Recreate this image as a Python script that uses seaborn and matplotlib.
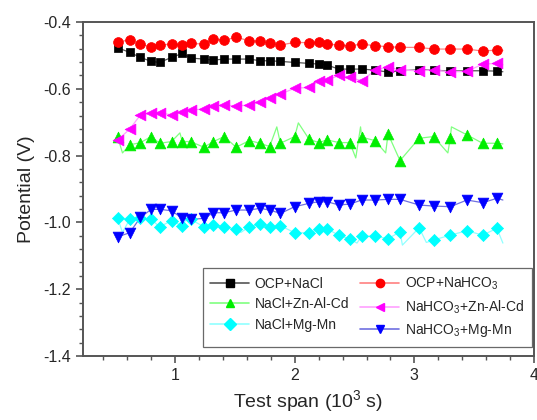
import numpy as np
import pandas as pd
import matplotlib
matplotlib.use("Agg")
import matplotlib.pyplot as plt
from matplotlib.lines import Line2D
from matplotlib.ticker import MultipleLocator
import seaborn as sns

# ---------------- data ----------------
x_time = [0.52, 0.62, 0.71, 0.80, 0.87, 0.97, 1.06, 1.13, 1.24, 1.32, 1.41, 1.51,
          1.62, 1.71, 1.79, 1.88, 2.00, 2.12, 2.20, 2.27, 2.37, 2.46, 2.56, 2.67,
          2.78, 2.88, 3.04, 3.16, 3.30, 3.44, 3.57, 3.69]

ocp_nacl = [-0.477, -0.491, -0.506, -0.518, -0.521, -0.506, -0.494, -0.508, -0.511, -0.514,
            -0.511, -0.511, -0.511, -0.516, -0.516, -0.518, -0.521, -0.524, -0.526, -0.529,
            -0.541, -0.541, -0.541, -0.544, -0.550, -0.546, -0.543, -0.544, -0.547, -0.546,
            -0.546, -0.547]

ocp_nahco3 = [-0.459, -0.454, -0.467, -0.474, -0.469, -0.466, -0.468, -0.464, -0.466, -0.452,
              -0.454, -0.446, -0.456, -0.458, -0.462, -0.469, -0.461, -0.462, -0.460, -0.466,
              -0.469, -0.471, -0.466, -0.471, -0.474, -0.476, -0.476, -0.481, -0.481, -0.481,
              -0.487, -0.484]

nacl_znalcd = [-0.745, -0.768, -0.761, -0.743, -0.763, -0.758, -0.758, -0.758, -0.775, -0.758,
               -0.743, -0.775, -0.755, -0.763, -0.773, -0.763, -0.743, -0.751, -0.761, -0.753,
               -0.761, -0.761, -0.745, -0.755, -0.735, -0.815, -0.748, -0.743, -0.748, -0.738,
               -0.763, -0.763]

nahco3_znalcd = [-0.753, -0.721, -0.678, -0.673, -0.672, -0.678, -0.669, -0.663, -0.661, -0.651,
                 -0.649, -0.651, -0.649, -0.639, -0.628, -0.616, -0.598, -0.596, -0.577, -0.574,
                 -0.560, -0.566, -0.576, -0.545, -0.534, -0.544, -0.546, -0.544, -0.549, -0.548,
                 -0.526, -0.524]

nacl_mgmn = [-0.988, -0.991, -0.988, -0.991, -1.013, -0.995, -1.011, -0.991, -1.013, -1.008,
             -1.013, -1.021, -1.013, -1.005, -1.013, -1.010, -1.031, -1.031, -1.021, -1.019,
             -1.039, -1.049, -1.041, -1.041, -1.049, -1.028, -1.016, -1.053, -1.038, -1.025,
             -1.038, -1.018]

nahco3_mgmn = [-1.043, -1.031, -0.985, -0.961, -0.961, -0.965, -0.988, -0.991, -0.988, -0.971,
               -0.971, -0.963, -0.963, -0.958, -0.963, -0.973, -0.953, -0.943, -0.938, -0.938,
               -0.948, -0.945, -0.933, -0.933, -0.931, -0.931, -0.948, -0.951, -0.953, -0.933,
               -0.941, -0.928]

# extra fluctuation points of the thin traces
green_extra_x = [0.56, 1.04, 1.85, 2.03, 2.51, 2.55, 2.76, 3.28, 3.31, 3.74]
green_extra_y = [-0.792, -0.732, -0.714, -0.702, -0.807, -0.714, -0.792, -0.792, -0.714, -0.765]
cyan_extra_x = [0.56, 1.10, 1.55, 2.52, 2.90, 3.10, 3.74]
cyan_extra_y = [-1.030, -0.985, -1.030, -1.062, -1.068, -1.060, -1.062]
black_extra_x = [3.74]
black_extra_y = [-0.549]
red_extra_x = [3.74]
red_extra_y = [-0.485]
magenta_extra_x = [3.74]
magenta_extra_y = [-0.528]
blue_extra_x = [3.74]
blue_extra_y = [-0.933]

labels = ["OCP+NaCl", "OCP+NaHCO$_3$", "NaCl+Zn-Al-Cd",
          "NaHCO$_3$+Zn-Al-Cd", "NaCl+Mg-Mn", "NaHCO$_3$+Mg-Mn"]

# ---------------- styling ----------------
sns.set_theme(style="white")
plt.rcParams["font.family"] = ["Liberation Sans", "DejaVu Sans"]
plt.rcParams["mathtext.fontset"] = "custom"
plt.rcParams["mathtext.rm"] = "Liberation Sans"

fig = plt.figure(figsize=(5.37, 4.2), dpi=100)
ax = fig.add_axes([0.1546, 0.1524, 0.8398, 0.7952])

series = [
    (ocp_nacl, black_extra_x, black_extra_y, "black", "#555555", "s", 40),
    (ocp_nahco3, red_extra_x, red_extra_y, "#ff0000", "#ff8080", "o", 50),
    (nacl_znalcd, green_extra_x, green_extra_y, "#00ee00", "#80ff80", "^", 60),
    (nahco3_znalcd, magenta_extra_x, magenta_extra_y, "#ff00ff", "#ffa0ff", "<", 60),
    (nacl_mgmn, cyan_extra_x, cyan_extra_y, "#00ffff", "#90ffff", "D", 38),
    (nahco3_mgmn, blue_extra_x, blue_extra_y, "#0000ff", "#7070e0", "v", 60),
]

handles = []
for (vals, ex, ey, col, lcol, mk, sz), lab in zip(series, labels):
    line_df = pd.DataFrame({"x": list(x_time) + list(ex), "y": list(vals) + list(ey)})
    line_df = line_df.sort_values("x")
    sns.lineplot(data=line_df, x="x", y="y", ax=ax, color=lcol, lw=0.9,
                 sort=False, estimator=None, legend=False, zorder=2)
    pts = pd.DataFrame({"x": x_time, "y": vals})
    sns.scatterplot(data=pts, x="x", y="y", ax=ax, color=col, marker=mk, s=sz,
                    edgecolor=col, linewidth=0.5, legend=False, zorder=3)
    handles.append(Line2D([0], [0], color=lcol, lw=1.2, marker=mk, markersize=6,
                          markerfacecolor=col, markeredgecolor=col, label=lab))

ax.set_xlim(0.23, 4.0)
ax.set_ylim(-1.4, -0.4)
ax.xaxis.set_major_locator(MultipleLocator(1))
ax.xaxis.set_minor_locator(MultipleLocator(0.2))
ax.yaxis.set_major_locator(MultipleLocator(0.2))
ax.yaxis.set_minor_locator(MultipleLocator(0.04))
ax.set_xticks([1, 2, 3, 4])
ax.set_xticklabels(["1", "2", "3", "4"])
ax.set_yticks([-1.4, -1.2, -1.0, -0.8, -0.6, -0.4])
ax.set_yticklabels(["-1.4", "-1.2", "-1.0", "-0.8", "-0.6", "-0.4"])

ax.tick_params(axis="both", which="major", direction="out", length=5, width=1.2,
               color="#555555", labelsize=11.5, top=False, right=False, bottom=True, left=True)
ax.tick_params(axis="both", which="minor", direction="out", length=3, width=1.0,
               color="#555555", top=False, right=False, bottom=True, left=True)
for sp in ax.spines.values():
    sp.set_color("#555555")
    sp.set_linewidth(1.4)

ax.set_xlabel("Test span (10$^3$ s)", fontsize=14, labelpad=4)
ax.set_ylabel("Potential (V)", fontsize=14, labelpad=6)

# row-wise order in a 2-column legend
order = [0, 2, 4, 1, 3, 5]
leg = ax.legend(handles=[handles[i] for i in order], ncol=2, loc="lower right",
                bbox_to_anchor=(0.995, 0.027), borderaxespad=0, fontsize=10,
                frameon=True, fancybox=False, edgecolor="#444444", handlelength=2.8,
                columnspacing=0.8, handletextpad=0.4, labelspacing=0.45,
                borderpad=0.55)
leg.get_frame().set_linewidth(0.9)

fig.savefig("out.png", dpi=100)
